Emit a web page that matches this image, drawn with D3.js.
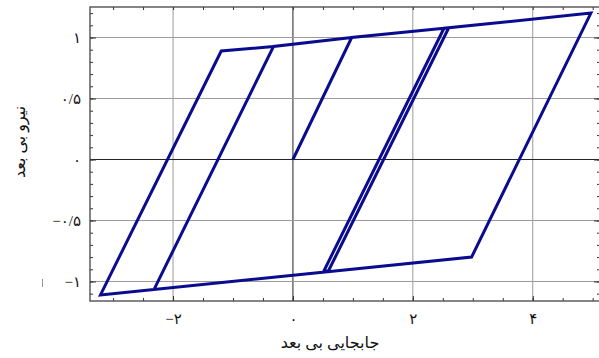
<!DOCTYPE html>
<html>
<head>
<meta charset="utf-8">
<script src="https://cdn.jsdelivr.net/npm/d3@7"></script>
<style>
  html, body { margin: 0; padding: 0; background: #fff; }
  svg { display: block; }
  text { font-family: "Liberation Serif", "DejaVu Serif", "DejaVu Sans", serif; }
</style>
</head>
<body>
<svg id="chart" width="599" height="358"></svg>
<script>
// Hysteresis path of the bilinear model, in loading order
const displacement = [0, 0.98, 2.60, 0.594, 0.51, 2.52, 4.97, 2.98, -3.21, -1.196, -0.324, -2.31, -0.324, 0.98];
const force        = [0, 1.00, 1.08, -0.912, -0.92, 1.076, 1.20, -0.80, -1.11, 0.889, 0.927, -1.059, 0.927, 1.00];

const xMajorTicks = [-2, 0, 2, 4];
const yMajorTicks = [-1, -0.5, 0, 0.5, 1];
const xLabel = "جابجایی بی بعد";
const yLabel = "نیرو بی بعد";

const faDigits = "۰۱۲۳۴۵۶۷۸۹";
function toFa(v) {
  return String(v)
    .replace(/[0-9]/g, d => faDigits[+d])
    .replace(".", "/")
    .replace("-", "\u2212");
}

const svg = d3.select("#chart");
const pLeft = 90, pRight = 600, pTop = 7, pBottom = 301;

const x = d3.scaleLinear().domain([-3.385, 5.122]).range([pLeft, pRight]);
const y = d3.scaleLinear().domain([-1.16, 1.25]).range([pBottom, pTop]);

const xMinor = d3.range(-3, 5.001, 0.5);
const yMinor = d3.range(-11, 13).map(i => i / 10);

// grid
const grid = svg.append("g");
grid.selectAll("line.gx").data(xMajorTicks).join("line")
  .attr("x1", d => x(d)).attr("x2", d => x(d))
  .attr("y1", pTop).attr("y2", pBottom)
  .attr("stroke", d => d === 0 ? "#222" : "#9a9a9a")
  .attr("stroke-width", 1);
grid.selectAll("line.gy").data(yMajorTicks).join("line")
  .attr("x1", pLeft).attr("x2", pRight)
  .attr("y1", d => y(d)).attr("y2", d => y(d))
  .attr("stroke", d => d === 0 ? "#222" : "#9a9a9a")
  .attr("stroke-width", 1);

function styleAxis(g) {
  g.select(".domain").remove();
  g.selectAll(".tick line").attr("stroke", "#333");
  g.selectAll("text")
    .attr("fill", "#111")
    .style("font-size", "15px")
    .attr("direction", "ltr");
}

// bottom axis
svg.append("g").attr("transform", `translate(0,${pBottom})`)
  .call(d3.axisBottom(x).tickValues(xMinor).tickSizeInner(-3).tickSizeOuter(0).tickFormat(""))
  .call(styleAxis);
svg.append("g").attr("transform", `translate(0,${pBottom})`)
  .call(d3.axisBottom(x).tickValues(xMajorTicks).tickSizeInner(-5).tickSizeOuter(0).tickPadding(12).tickFormat(toFa))
  .call(styleAxis);

// top axis
svg.append("g").attr("transform", `translate(0,${pTop})`)
  .call(d3.axisTop(x).tickValues(xMinor).tickSizeInner(-3).tickSizeOuter(0).tickFormat(""))
  .call(styleAxis);

// left axis
svg.append("g").attr("transform", `translate(${pLeft},0)`)
  .call(d3.axisLeft(y).tickValues(yMinor).tickSizeInner(-3).tickSizeOuter(0).tickFormat(""))
  .call(styleAxis);
svg.append("g").attr("transform", `translate(${pLeft},0)`)
  .call(d3.axisLeft(y).tickValues(yMajorTicks).tickSizeInner(-6).tickSizeOuter(0).tickPadding(9).tickFormat(toFa))
  .call(styleAxis);

// right axis
svg.append("g").attr("transform", `translate(${pRight},0)`)
  .call(d3.axisRight(y).tickValues(yMinor).tickSizeInner(-3).tickSizeOuter(0).tickFormat(""))
  .call(styleAxis);
svg.append("g").attr("transform", `translate(${pRight},0)`)
  .call(d3.axisRight(y).tickValues(yMajorTicks).tickSizeInner(-6).tickSizeOuter(0).tickFormat(""))
  .call(styleAxis);

// frame
svg.append("rect")
  .attr("x", pLeft).attr("y", pTop)
  .attr("width", pRight - pLeft).attr("height", pBottom - pTop)
  .attr("fill", "none").attr("stroke", "#444").attr("stroke-width", 1.3);

// hysteresis curve
const pts = displacement.map((d, i) => [d, force[i]]);
svg.append("path")
  .datum(pts)
  .attr("fill", "none")
  .attr("stroke", "#0b0b8f")
  .attr("stroke-width", 3)
  .attr("stroke-linejoin", "miter")
  .attr("d", d3.line().x(d => x(d[0])).y(d => y(d[1])));

// axis titles
svg.append("text")
  .attr("x", 330).attr("y", 348)
  .attr("text-anchor", "middle")
  .style("font-size", "16px")
  .attr("fill", "#111")
  .text(xLabel);
svg.append("text")
  .attr("transform", "translate(25,142) rotate(-90)")
  .attr("text-anchor", "middle")
  .style("font-size", "16px")
  .attr("fill", "#111")
  .text(yLabel);

// small stray mark on the left margin
svg.append("line")
  .attr("x1", 42.5).attr("x2", 42.5).attr("y1", 279).attr("y2", 287)
  .attr("stroke", "#999").attr("stroke-width", 1);
</script>
</body>
</html>
